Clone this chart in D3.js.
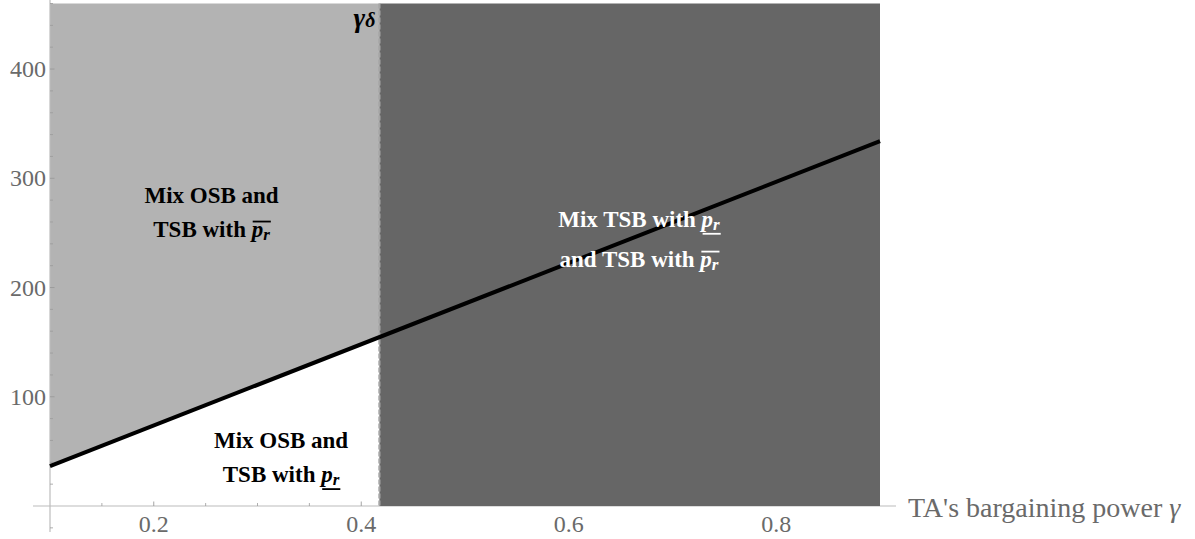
<!DOCTYPE html>
<html><head><meta charset="utf-8">
<script src="https://cdn.jsdelivr.net/npm/d3@7"></script>
<style>html,body{margin:0;padding:0;background:#fff;}svg{display:block;}</style>
</head><body>
<svg id="chart" width="1195" height="539"></svg>
<script>
// ---- data ----
const gammaDelta = 0.4175;                 // threshold γδ
const lineGamma = [0.1, 0.9];              // boundary line (γ)
const lineValue = [36.5, 334];             // boundary line (value)
const xDomain = [0.1, 0.9];
const yDomain = [0, 460];
const xTickValues = [0.2, 0.4, 0.6, 0.8];
const xTickLabels = ["0.2", "0.4", "0.6", "0.8"];
const xMinorTicks = [0.15, 0.25, 0.3, 0.35, 0.45, 0.5, 0.55, 0.65, 0.7, 0.75, 0.85];
const yTickValues = [100, 200, 300, 400];
const yTickLabels = ["100", "200", "300", "400"];
const yMinorTicks = [-20, 20, 40, 60, 80, 120, 140, 160, 180, 220, 240, 260, 280, 320, 340, 360, 380, 420, 440, 460];
const xAxisTitle = "TA's bargaining power ";
const xAxisSymbol = "γ";

const svg = d3.select("#chart");
const x = d3.scaleLinear().domain(xDomain).range([50, 880]);
const y = d3.scaleLinear().domain(yDomain).range([506, 3.5]);
const serif = "'Liberation Serif','Times New Roman',serif";
const axisCol = "#bcbcbc", tickCol = "#9a9a9a", labCol = "#6a6a6a";

// x axis line + ticks (drawn beneath regions)
svg.append("line").attr("x1", 33).attr("x2", 896).attr("y1", y(0)).attr("y2", y(0))
  .attr("stroke", axisCol).attr("stroke-width", 1.2);
svg.append("g").selectAll("line").data(xMinorTicks).join("line")
  .attr("x1", d => x(d)).attr("x2", d => x(d)).attr("y1", y(0)).attr("y2", y(0) - 3)
  .attr("stroke", tickCol).attr("stroke-width", 0.8);
svg.append("g").selectAll("line").data(xTickValues).join("line")
  .attr("x1", d => x(d)).attr("x2", d => x(d)).attr("y1", y(0)).attr("y2", y(0) - 4.5)
  .attr("stroke", tickCol).attr("stroke-width", 0.9);

// regions
const pts = lineGamma.map((g, i) => [g, lineValue[i]]);
svg.append("clipPath").attr("id", "leftClip").append("rect")
  .attr("x", x(xDomain[0])).attr("y", 0).attr("width", x(gammaDelta) - x(xDomain[0])).attr("height", 539);
svg.append("path")
  .datum(pts)
  .attr("clip-path", "url(#leftClip)")
  .attr("fill", "#b3b3b3")
  .attr("d", d3.area().x(d => x(d[0])).y0(y(yDomain[1])).y1(d => y(d[1])));
svg.append("rect")
  .attr("x", x(gammaDelta)).attr("y", y(yDomain[1]))
  .attr("width", x(xDomain[1]) - x(gammaDelta)).attr("height", y(0) - y(yDomain[1]))
  .attr("fill", "#666666");

// dashed threshold line
svg.append("line").attr("x1", x(gammaDelta)).attr("x2", x(gammaDelta))
  .attr("y1", y(yDomain[1])).attr("y2", y(0))
  .attr("stroke", "#a5a5a5").attr("stroke-width", 2.2).attr("stroke-dasharray", "5,2");

// y axis (drawn above regions)
svg.append("line").attr("x1", x(0.1)).attr("x2", x(0.1)).attr("y1", 0).attr("y2", 532)
  .attr("stroke", axisCol).attr("stroke-width", 1.2);
svg.append("g").selectAll("line").data(yMinorTicks).join("line")
  .attr("x1", x(0.1)).attr("x2", x(0.1) + 3).attr("y1", d => y(d)).attr("y2", d => y(d))
  .attr("stroke", tickCol).attr("stroke-width", 0.8);
svg.append("g").selectAll("line").data(yTickValues).join("line")
  .attr("x1", x(0.1)).attr("x2", x(0.1) + 4.5).attr("y1", d => y(d)).attr("y2", d => y(d))
  .attr("stroke", tickCol).attr("stroke-width", 0.9);

// tick labels
svg.append("g").selectAll("text").data(xTickValues).join("text")
  .attr("x", d => x(d)).attr("y", 532).attr("text-anchor", "middle")
  .attr("font-family", serif).attr("font-size", 24).attr("fill", labCol)
  .text((d, i) => xTickLabels[i]);
svg.append("g").selectAll("text").data(yTickValues).join("text")
  .attr("x", 46).attr("y", d => y(d)).attr("dy", "0.34em").attr("text-anchor", "end")
  .attr("font-family", serif).attr("font-size", 24).attr("fill", labCol)
  .text((d, i) => yTickLabels[i]);
const at = svg.append("text").attr("x", 908).attr("y", 517)
  .attr("font-family", serif).attr("font-size", 28).attr("fill", labCol);
at.append("tspan").text(xAxisTitle);
at.append("tspan").attr("font-style", "italic").text(xAxisSymbol);

// boundary line
svg.append("path").datum(pts)
  .attr("fill", "none").attr("stroke", "#000").attr("stroke-width", 4)
  .attr("d", d3.line().x(d => x(d[0])).y(d => y(d[1])));

// γδ label
const gl = svg.append("text").attr("x", x(gammaDelta) - 4).attr("y", 27)
  .attr("text-anchor", "end").attr("font-family", serif).attr("font-weight", "bold")
  .attr("font-style", "italic").attr("fill", "#000");
gl.append("tspan").attr("font-size", 28).text("γ");
gl.append("tspan").attr("font-size", 20).attr("dy", 0).text("δ");

// rich labels with p_r (overline / underline)
function richLine(cx, by, prefix, deco, color) {
  const t = svg.append("text").attr("x", cx).attr("y", by).attr("text-anchor", "middle")
    .attr("font-family", serif).attr("font-weight", "bold").attr("font-size", 23).attr("fill", color);
  t.append("tspan").text(prefix);
  if (deco) {
    t.append("tspan").attr("font-style", "italic").text("p");
    t.append("tspan").attr("font-style", "italic").attr("font-size", 17).attr("dy", 3).text("r");
    const node = t.node();
    const i0 = prefix.length;
    const e1 = node.getExtentOfChar(i0), e2 = node.getExtentOfChar(i0 + 1);
    const x1 = e1.x + 1, x2 = e2.x + e2.width + 1;
    const ly = deco === "over" ? by - 15.5 : by + 7;
    svg.append("line").attr("x1", x1).attr("x2", x2).attr("y1", ly).attr("y2", ly)
      .attr("stroke", color).attr("stroke-width", 1.8);
  }
}
richLine(x(0.2557), y(277.3), "Mix OSB and", null, "#000");
richLine(x(0.2557), y(246.2), "TSB with ", "over", "#000");
richLine(x(0.6677), y(255.6), "Mix TSB with ", "under", "#fff");
richLine(x(0.6677), y(218.7), "and TSB with ", "over", "#fff");
richLine(x(0.3227), y(53.0), "Mix OSB and", null, "#000");
richLine(x(0.3227), y(21.9), "TSB with ", "under", "#000");
</script>
</body></html>
